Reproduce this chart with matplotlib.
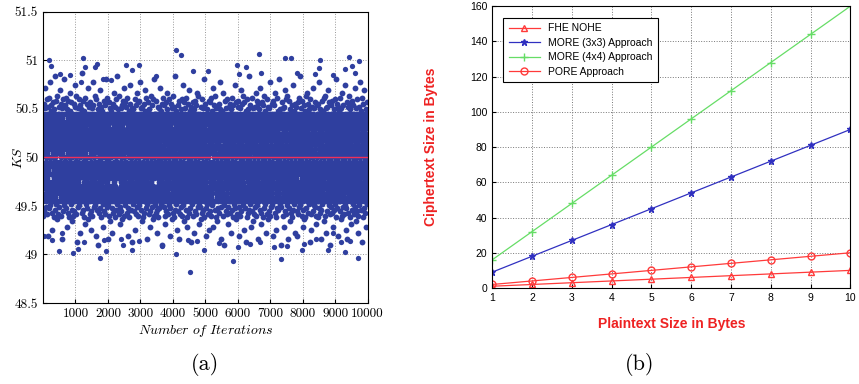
import numpy as np
import matplotlib.pyplot as plt

# ---- (a) KS value per iteration ----
# isolated points outside the dense band
outlier_iter = [172, 233, 1237, 1308, 1667, 1594, 2556, 2956, 2740, 1861, 4092, 4245,
                4614, 540, 847, 3497, 1175, 2106, 6659, 7448, 7653, 8522, 9413, 9729,
                5093, 5965, 6241, 6711, 7838, 8492, 9311, 9514, 9597, 8369, 8931, 6045,
                28, 285, 488, 918, 1071, 1768, 1943, 2740, 2453, 2956, 1870, 2413,
                3662, 4110, 4522, 4961, 4479, 4737, 592, 1256, 5843, 6014, 5431, 6373,
                6680, 7110, 7325, 7518, 8031, 7991, 8777, 9167, 9311, 9453, 9698, 8931,
                8420]
outlier_ks = [51.00, 50.94, 51.02, 50.93, 50.96, 50.93, 50.95, 50.95, 50.90, 50.81, 51.11, 51.06,
              50.89, 50.86, 50.85, 50.84, 50.78, 50.80, 51.07, 51.02, 51.02, 51.00, 51.04, 50.99,
              50.89, 50.95, 50.93, 50.87, 50.87, 50.92, 50.91, 50.94, 50.87, 50.86, 50.85, 50.86,
              49.19, 49.15, 49.04, 49.02, 49.06, 48.96, 49.04, 49.05, 49.10, 49.14, 49.15, 49.16,
              49.09, 49.00, 48.82, 49.05, 49.15, 49.14, 49.22, 49.13, 48.93, 49.08, 49.12, 49.11,
              49.13, 49.08, 48.95, 49.09, 49.11, 49.05, 49.05, 49.13, 49.03, 49.14, 48.96, 49.22,
              49.16]

# dense band, estimated: one character per sample, samples spread evenly over the run.
# each character stands for one KS level (LEVELS[i] -> level_ks[i])
LEVELS = "0123456789ABCDEFGHIJKLMNOPQRSTUVWXYZabcdefghijklmnopqrstuvwxyz"
level_ks = [49.10, 49.13, 49.16, 49.19, 49.22, 49.25, 49.28, 49.31, 49.34,
            49.37, 49.385, 49.40, 49.415, 49.43, 49.445, 49.46, 49.475, 49.49, 49.505, 49.52,
            49.55, 49.59, 49.63, 49.67, 49.71, 49.75, 49.79, 49.83, 49.87, 49.91, 49.955,
            50.00,
            50.045, 50.09, 50.13, 50.17, 50.21, 50.25, 50.29, 50.33, 50.37, 50.41, 50.45,
            50.48, 50.495, 50.51, 50.525, 50.54, 50.555, 50.57, 50.585, 50.60, 50.615, 50.63,
            50.66, 50.69, 50.72, 50.75, 50.78, 50.81, 50.84, 50.87]
band_codes = (
    "QfKBdWTamOYgREcLXjPZbSuNeVMHUaKfpTdQWCgYOc3RLbZkeSNXGVPadqMgUTIcKfYwbRZOl"
    "XcNhTgaLDRVeP5ZbKWnfMYdASQcUiOaTgFLeXRybVNZodKPWJMfYSrcUQa9TgOe"
    "eRbCWMZgkYTKcHaPNftXUdOmLgSVBQeTb2ZcMWjfKRaEYOXdpNgULIbSePxVaQTlcZMK"
    "LdqXaUgGOKeZiRbYM6TcPfDWNSaogQVLAeXdKsZRUbhMYcOJPfTWnaNgS8VQeLFbdXK"
    "SgBYMcRmTfaKEPZWevNdUXkQbLOCgVSarReYT1cMKZjfWPNHdXUbpaOQgILSeV4TYRclMZKf"
    "WaiKeTNDbRgYzZOcLFUXfModQSPAVaeKhTgRZ7YbNWqcLOfJMXdUmSPQaGeKVguRTZb"
    "Ob9fMXSkaZeRCKgTYnNcVL5PdWQEUbgOjXaMfBSRKewZTYclVLNdHgWParQUbMIfXOS3eKRZ"
    "TcpYgLaFMRbXieNKU0fZOWDdSPVmQaTgGcMYetRXLbkKUZfANOdWhSgVP6aTQcJYeMR"
    "gZEbKWdoTVMalLfRYCOeXNxcQSUHPgKbqZaWT2MdYfIVReLnXOcSBUNgQjbKaT8fWZM"
    "RaheVcKGSXgO4YLbTmfNZQDMUdWsPKaRAgYeXkcTOSFZMLfpbVNdJWQUayKgRTieYcX"
    "NdCaQgLrZWKeHTbRM7XfOYjcVSPEUgaZleKMd9WTLboRYNcBfQXOugSVaIPKeUnbZMT"
    "UfkKOaXDgRcNqLYbW3eTZMGSdPVhQaKgAXfRLvcNYOmWbeTFZUMd1PSgajVKQfJRXcL"
    "bMiYWgKEaTRepOcZN5fLUXldQVSCPgbYsKaMTHZeWRnXcOfBNULdoSgQVIaKbPwTYZe"
    "KgFWcRajMXeO8TbYLkNfZdAUQSgmVaKPDeRXctOMbWhLYZTGfNdSqgUQa2PVKeJXRcb"
    "ZenLbTgCRaNYicKXM6OdWfESgVQrUePaHbTZKlYRcL9MfXOpNWdgBQSaVxKeUbITgZR"
    "McDXgKaoeZRTFbWNY4fOLUkdVSQAgPaMjTeXcGRKZbuYNWfhLOdUJSVgQmaPTe0XMcK"
    "VbqRMegHZcTKlaXYOBNfLW7UdSPnQgaVEKbeRiTZMcsXYOfCWNLdpgUSQIPaVK3eRbT"
    "YdGgKTamLReX9OcbZjMWfNDUSgVrPQaKAeTRYkcZXOFbLMWyfNdUhSVgPJQaKe5TRYc"
    "aSlZMgOEKXbToReWc2YLfNCdUVQigaPSHMKeZpTbXRBOcWYvLfNdIUSgVnaQPK8eMZT"
    "PgjcTaRFXZKeqbOMY6WLfdANVSUmgQaPDKeRTtZXcbhOMYWGLfdNkVSUg1QaPKJeRTZ"
    "eWBTYKcnaMgRiLZbX4dOfNEQUVSoPaKgCTeRYlMZcXsbWLOHfdNUrSgQVIaPeK7RTYM"
    "QcHgXaLkRKbe9ZYTMpNfOWDVdUSjaPgQFeKTRxbcZXAYMWLmOfNdGUSVg3PaQeJKRbT"
    "LbiaVRgCMeXKoTZcY5WNfOEdQSUngaPLBKbeTqRXZchYMOWINfdSuQUga6PVKelbTRX"
    "dXFKgWareRbMjZTYcAOLfN8SVUdkQgaPGTKebmXRZcDYOWMwNLfdiSgVUHaQKP2ebTX"
    "gNhVcKaBTRXesMbZOIYfWL0dSUQoaPgVEKeTRjcXZbCMYOWpLNfdHUgSQ7VaKPkeRXT"
    "SamZKfRDbTeX4cOYMigWNLFUdQVqPaSgARKTelZbXcJOYMfvWNLdGgQUSnVPaK9TeRb"
    "XeCRgMakKZbToYcWOHfLNd3QSVUjagPKBTeRXtbZcMEWYfOmdLNQISgVUrKaPe5TXRb"
    "OangTRcGXMKbheZYW1NfLdAUSQgpVaKPDRTeXicbZMyYOWfFLNdSlUgQVJaKeP6RXTb"
    "TfEaLgXqZRKc8bMeYjOWNdCSUQVkgPaTHKeRbsXcZMBfYOWoLdNSIQUgV2PaKembRTX"
    "cKiWgaZFeTXRuMbOYDNLfW7dQSUnVgaPATKeRlcXbZGMOYfrWLNdJSQUghVPaK4eTRX"
    "bYCMgKapRZTe9XcOWkfNLdEQSVUjagPTBKeRXwbcZMHYOWfmNLdSIUgQV3aPKeoTRXb"
    "ValfRgTDKXZesbcOM5YWNLAfdQSqUVgaGPKTehRXcbFZMOYxWfNLJdSQUigVaP0KeRT"
    "RdHeYgKnaTZXBMObcjLWfN6SQdUkgVaPEeKTRtcXbZCOMYWpfLNdISUgQrVPaK2eTXR"
    "MaoXgRKGTbeZicYOW8NfLdDQSUVlPgaKATReXvbZcMFWYOfhLNdSJgQUVmaKPe4RTbX"
    "kQZcT3aMRfEKgbWnYeXOCLdSNqUVPaHgTKRyebXcIZMWOjYfLdBNSQUogaVK6PeTR"
    "FbdKalXRgM9TZeYhcOWNAfLSdrQUVgGaPKTseRXbDcZMOmWYfLJdNSQiUgVa1PKeR"
    "pMYaXCgReK5bTZckOWfNELdQSuVUgaIPTKejRbXcHZMOWnYfLdBNSQU7gVaPlKeRT"
    "AeZgSmaKTRGXcbMwYOWfDNLdQiSUVg2aPKeFTRXbocZMYJOWfLhdNSQ8UgVaqPKeT"
    "rWdaLBgXKRjeTbZ4cMYOkWfNLEdQSUtVgaPIKeTRnXbcZCMYOW0fLNdlSQUgHVaKP"
    "DTcgYoaRKX6ZebMiOWcYFfNLdpQSUVJgaPKxeTRXAbcZMmYOWfGLNdS3QUgVkaKPe"
    "hNgTbEXaRKqeZcM9YOWfjLNdQBSUVgsaPKeHTRXblcZMYCOWfLvdNSQIUgVa5PKeR"
    "GfYaKngRTX2bZeckMOWYDfLNdrSQUVAgaPKieTRX7bcZMmYOWfFLNdSoQUgVJaKPe"
    "lcVgTCRaXKueZbMHYcOW8fNLdjQSUVEgaPKpeTRXBcbZM4YOWfkLNdSIQUgVwaKPe"
    "FXeKahgTRb1ZcMeqYOWcAfNLdmSQUVGgaPKteTRXDbcZMiYOWf6LNdSnQUgVJaKPe"
)
ks_mean = 50.0

# ---- (b) ciphertext size vs plaintext size ----
plain_size = [1, 2, 3, 4, 5, 6, 7, 8, 9, 10]
fhe_nohe = [1, 2, 3, 4, 5, 6, 7, 8, 9, 10]
more_3x3 = [9, 18, 27, 36, 45, 54, 63, 72, 81, 90]
more_4x4 = [16, 32, 48, 64, 80, 96, 112, 128, 144, 160]
pore = [2, 4, 6, 8, 10, 12, 14, 16, 18, 20]

band_ks = np.array([level_ks[LEVELS.index(c)] for c in band_codes])
band_iter = np.linspace(1, 10000, len(band_ks))

plt.rcParams['mathtext.fontset'] = 'cm'
dot_blue = '#2f3f9f'
red = '#ff3a3a'

fig = plt.figure(figsize=(8.59, 3.84), dpi=100)

# left panel
ax1 = fig.add_axes([0.050, 0.211, 0.378, 0.758])
ax1.plot(band_iter, band_ks, 'o', ms=4.2, mew=0, color=dot_blue)
ax1.plot(outlier_iter, outlier_ks, 'o', ms=3.8, mew=0, color=dot_blue)
ax1.axhline(ks_mean, color='#f0305a', lw=1.0)
ax1.set_xlim(0, 10000)
ax1.set_ylim(48.5, 51.5)
ax1.set_xticks(range(1000, 10001, 1000))
ax1.set_yticks([48.5, 49, 49.5, 50, 50.5, 51, 51.5])
ax1.set_yticklabels(['48.5', '49', '49.5', '50', '50.5', '51', '51.5'])
ax1.tick_params(direction='in', length=3, labelsize=9.5, labelfontfamily='cmr10')
ax1.grid(True, linestyle=':', color='#999999', lw=0.7)
ax1.set_axisbelow(True)
ax1.set_xlabel(r'$Number\ of\ Iterations$', fontsize=10, labelpad=2)
ax1.set_ylabel(r'$KS$', fontsize=10)
ax1.yaxis.set_label_coords(-0.055, 0.5)
for s in ax1.spines.values():
    s.set_linewidth(0.8)

# right panel
ax2 = fig.add_axes([0.573, 0.25, 0.417, 0.734])
ax2.plot(plain_size, fhe_nohe, '-^', color=red, mfc='none', ms=5, lw=0.9, label='FHE NOHE')
ax2.plot(plain_size, more_3x3, '-*', color='#3030c0', ms=5, lw=0.9, label='MORE (3x3) Approach')
ax2.plot(plain_size, more_4x4, '-+', color='#66dd66', ms=6, lw=0.9, label='MORE (4x4) Approach')
ax2.plot(plain_size, pore, '-o', color=red, mfc='none', ms=5, lw=0.9, label='PORE Approach')
ax2.set_xlim(1, 10)
ax2.set_ylim(0, 160)
ax2.set_xticks(plain_size)
ax2.set_yticks(range(0, 161, 20))
ax2.tick_params(direction='in', length=3, labelsize=7.5, labelfontfamily='Liberation Sans')
ax2.grid(True, linestyle=':', color='#777777', lw=0.7)
ax2.set_xlabel('Plaintext Size in Bytes', color='#ee2222', fontsize=10, fontweight='bold',
               family='Liberation Sans', labelpad=10)
ax2.set_ylabel('Ciphertext Size in Bytes', color='#ee2222', fontsize=10, fontweight='bold',
               family='Liberation Sans', labelpad=23)
leg = ax2.legend(loc='upper left', bbox_to_anchor=(0.031, 0.957), borderaxespad=0,
                 fancybox=False, edgecolor='black', framealpha=1, handlelength=3,
                 prop={'family': 'Liberation Sans', 'size': 7.5}, borderpad=0.5,
                 labelspacing=0.42)
leg.get_frame().set_linewidth(0.8)

fig.text(0.239, 0.05, '(a)', ha='center', va='center', fontsize=16, family='cmr10')
fig.text(0.745, 0.05, '(b)', ha='center', va='center', fontsize=16, family='cmr10')

fig.savefig('out.png', dpi=100)
